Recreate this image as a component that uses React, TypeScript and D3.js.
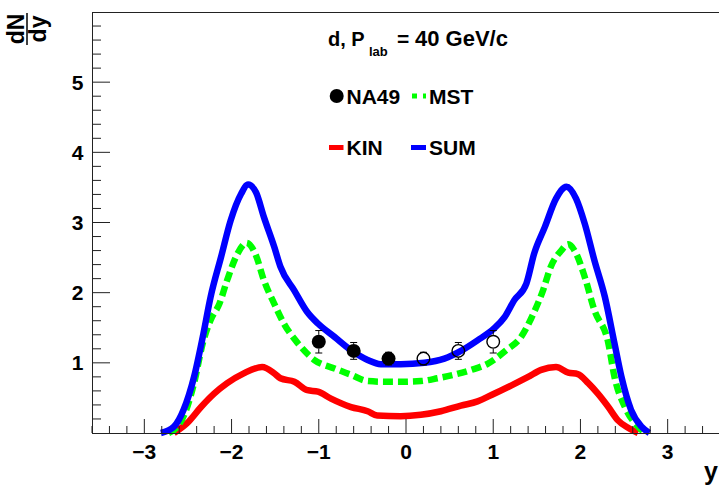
import React from "react";
import * as d3 from "d3";

// ---- data ----
const sumX = [-2.81, -2.66, -2.55, -2.43, -2.33, -2.24, -2.12, -2.01, -1.89, -1.81, -1.72, -1.63, -1.51, -1.44, -1.28, -1.13, -1.01, -0.82, -0.63, -0.44, -0.29, -0.06, 0.21, 0.44, 0.63, 0.82, 1.01, 1.13, 1.24, 1.38, 1.47, 1.59, 1.72, 1.84, 1.95, 2.05, 2.16, 2.28, 2.39, 2.47, 2.58, 2.70, 2.79];
const sumY = [0, 0.09, 0.33, 0.80, 1.37, 1.94, 2.51, 3.03, 3.41, 3.54, 3.43, 3.08, 2.65, 2.37, 2.03, 1.72, 1.56, 1.37, 1.18, 1.04, 0.98, 0.98, 1.00, 1.06, 1.17, 1.32, 1.49, 1.65, 1.89, 2.13, 2.56, 2.93, 3.34, 3.51, 3.34, 2.98, 2.46, 1.94, 1.28, 0.80, 0.33, 0.09, 0];

const mstX = [-2.72, -2.62, -2.52, -2.43, -2.33, -2.24, -2.14, -2.05, -1.93, -1.83, -1.72, -1.63, -1.51, -1.40, -1.24, -1.05, -0.82, -0.63, -0.44, -0.25, -0.06, 0.17, 0.36, 0.55, 0.75, 0.94, 1.15, 1.32, 1.46, 1.57, 1.66, 1.78, 1.86, 1.95, 2.05, 2.16, 2.32, 2.39, 2.51, 2.66, 2.74];
const mstY = [0, 0.09, 0.33, 0.71, 1.28, 1.61, 1.84, 2.18, 2.56, 2.71, 2.53, 2.18, 1.84, 1.56, 1.28, 1.04, 0.92, 0.83, 0.74, 0.73, 0.73, 0.74, 0.78, 0.83, 0.90, 0.99, 1.18, 1.37, 1.70, 2.03, 2.37, 2.60, 2.69, 2.56, 2.22, 1.75, 1.28, 0.80, 0.37, 0.09, 0];

const kinX = [-2.66, -2.51, -2.35, -2.20, -2.05, -1.86, -1.65, -1.51, -1.44, -1.28, -1.13, -1.01, -0.86, -0.63, -0.44, -0.33, -0.06, 0.17, 0.40, 0.63, 0.82, 1.01, 1.21, 1.40, 1.55, 1.72, 1.86, 1.97, 2.09, 2.20, 2.32, 2.43, 2.55, 2.66];
const kinY = [0, 0.14, 0.37, 0.56, 0.71, 0.85, 0.94, 0.85, 0.78, 0.73, 0.61, 0.59, 0.49, 0.37, 0.31, 0.25, 0.24, 0.26, 0.31, 0.39, 0.45, 0.56, 0.68, 0.80, 0.90, 0.94, 0.86, 0.84, 0.71, 0.56, 0.37, 0.18, 0.07, 0];

const na49X = [-1.0, -0.6, -0.2];
const na49Y = [1.30, 1.17, 1.06];
const na49Err = [0.16, 0.12, 0.09];
const reflX = [0.2, 0.6, 1.0];
const reflY = [1.06, 1.17, 1.30];
const reflErr = [0.09, 0.12, 0.16];

const xTickLabels = ["−3", "−2", "−1", "0", "1", "2", "3"];
const xTickValues = [-3, -2, -1, 0, 1, 2, 3];
const yTickValues = [1, 2, 3, 4, 5];

// ---- layout ----
const W = 719;
const H = 487;
const left = 92;
const right = 720;
const top = 12;
const bottom = 433;

const FONT = "'Liberation Sans', Arial, Helvetica, sans-serif";

export default function App() {
  const x = d3.scaleLinear().domain([-3.6, 3.6]).range([left, right]);
  const y = d3.scaleLinear().domain([0, 6]).range([bottom, top]);

  const line = d3
    .line<[number, number]>()
    .x((d) => x(d[0]))
    .y((d) => y(d[1]))
    .curve(d3.curveMonotoneX);

  const zip = (a: number[], b: number[]) => a.map((v, i) => [v, b[i]] as [number, number]);

  const xMinor = d3.range(-18, 19).map((i) => i * 0.2).filter((v) => Math.abs(v - Math.round(v)) > 1e-6);
  const yMinor = d3.range(1, 30).map((i) => i * 0.2).filter((v) => Math.abs(v - Math.round(v)) > 1e-6);

  const R = 7;

  const points = (xs: number[], ys: number[], errs: number[], filled: boolean) =>
    xs.map((xv, i) => {
      const cx = x(xv);
      const cy = y(ys[i]);
      const yt = y(ys[i] + errs[i]);
      const yb = y(ys[i] - errs[i]);
      return (
        <g key={`${filled}-${i}`}>
          {yt < cy - R && <line x1={cx} x2={cx} y1={yt} y2={cy - R} stroke="#000" strokeWidth={1} />}
          {yb > cy + R && <line x1={cx} x2={cx} y1={cy + R} y2={yb} stroke="#000" strokeWidth={1} />}
          <line x1={cx - 3.5} x2={cx + 3.5} y1={yt} y2={yt} stroke="#000" strokeWidth={1} />
          <line x1={cx - 3.5} x2={cx + 3.5} y1={yb} y2={yb} stroke="#000" strokeWidth={1} />
          {filled ? (
            <circle cx={cx} cy={cy} r={R} fill="#000" />
          ) : (
            <circle cx={cx} cy={cy} r={R - 0.7} fill="none" stroke="#000" strokeWidth={1.4} />
          )}
        </g>
      );
    });

  return (
    <svg
      width={W}
      height={H}
      style={{ position: "absolute", left: 0, top: 0, display: "block", background: "#fff" }}
      fontFamily={FONT}
      fontWeight="bold"
    >
      <rect x={0} y={0} width={W} height={H} fill="#fff" />

      {/* curves */}
      <path d={line(zip(kinX, kinY)) || ""} fill="none" stroke="#ff0000" strokeWidth={6.5} strokeLinejoin="round" />
      <path d={line(zip(mstX, mstY)) || ""} fill="none" stroke="#00ff00" strokeWidth={6.5} strokeDasharray="10 5" strokeLinejoin="round" />
      <path d={line(zip(sumX, sumY)) || ""} fill="none" stroke="#0000ff" strokeWidth={6.5} strokeLinejoin="round" />

      {/* data points */}
      {points(na49X, na49Y, na49Err, true)}
      {points(reflX, reflY, reflErr, false)}

      {/* frame */}
      <line x1={left} x2={right} y1={top + 0.5} y2={top + 0.5} stroke="#222" strokeWidth={1} />
      <line x1={left + 0.5} x2={left + 0.5} y1={top} y2={bottom} stroke="#222" strokeWidth={1} />
      <line x1={left} x2={right} y1={bottom + 0.5} y2={bottom + 0.5} stroke="#222" strokeWidth={1} />

      {/* x ticks */}
      {xTickValues.map((v) => (
        <line key={`xM${v}`} x1={x(v)} x2={x(v)} y1={bottom} y2={bottom - 14} stroke="#222" strokeWidth={1} />
      ))}
      {xMinor.map((v, i) => (
        <line key={`xm${i}`} x1={x(v)} x2={x(v)} y1={bottom} y2={bottom - 7} stroke="#222" strokeWidth={1} />
      ))}
      {xTickValues.map((v, i) => (
        <text key={`xl${v}`} x={x(v)} y={459} fontSize={21} textAnchor="middle" fill="#000">
          {xTickLabels[i]}
        </text>
      ))}

      {/* y ticks */}
      {yTickValues.map((v) => (
        <line key={`yM${v}`} x1={left} x2={left + 18} y1={y(v)} y2={y(v)} stroke="#222" strokeWidth={1} />
      ))}
      {yMinor.map((v, i) => (
        <line key={`ym${i}`} x1={left} x2={left + 9} y1={y(v)} y2={y(v)} stroke="#222" strokeWidth={1} />
      ))}
      {yTickValues.map((v) => (
        <text key={`yl${v}`} x={83.5} y={y(v) + 7.5} fontSize={21} textAnchor="end" fill="#000">
          {v}
        </text>
      ))}

      {/* axis titles */}
      <text x={718} y={480} fontSize={25} textAnchor="end" fill="#000">y</text>
      <g transform="translate(27,29) rotate(-90)">
        <text x={0} y={-3} fontSize={23} textAnchor="middle" fill="#000">dN</text>
        <line x1={-16} x2={16} y1={0} y2={0} stroke="#000" strokeWidth={1.5} />
        <text x={0} y={19} fontSize={23} textAnchor="middle" fill="#000">dy</text>
      </g>

      {/* legend */}
      <text x={328} y={46} fontSize={20} fill="#000">d, P</text>
      <text x={369} y={56} fontSize={13} fill="#000">lab</text>
      <text x={397} y={46} fontSize={21} fill="#000">=</text>
      <text x={415} y={46} fontSize={22} fill="#000">40 GeV/c</text>

      <circle cx={336.7} cy={96} r={7} fill="#000" />
      <text x={346.5} y={103.5} fontSize={21} fill="#000">NA49</text>
      <line x1={412} x2={426} y1={96} y2={96} stroke="#00ff00" strokeWidth={5} strokeDasharray="5 6" />
      <text x={429} y={103.5} fontSize={21} fill="#000">MST</text>

      <line x1={329} x2={343.5} y1={147.5} y2={147.5} stroke="#ff0000" strokeWidth={5} />
      <text x={346.5} y={155} fontSize={21} fill="#000">KIN</text>
      <line x1={411} x2={426} y1={147.5} y2={147.5} stroke="#0000ff" strokeWidth={5} />
      <text x={429} y={155} fontSize={21} fill="#000">SUM</text>
    </svg>
  );
}
